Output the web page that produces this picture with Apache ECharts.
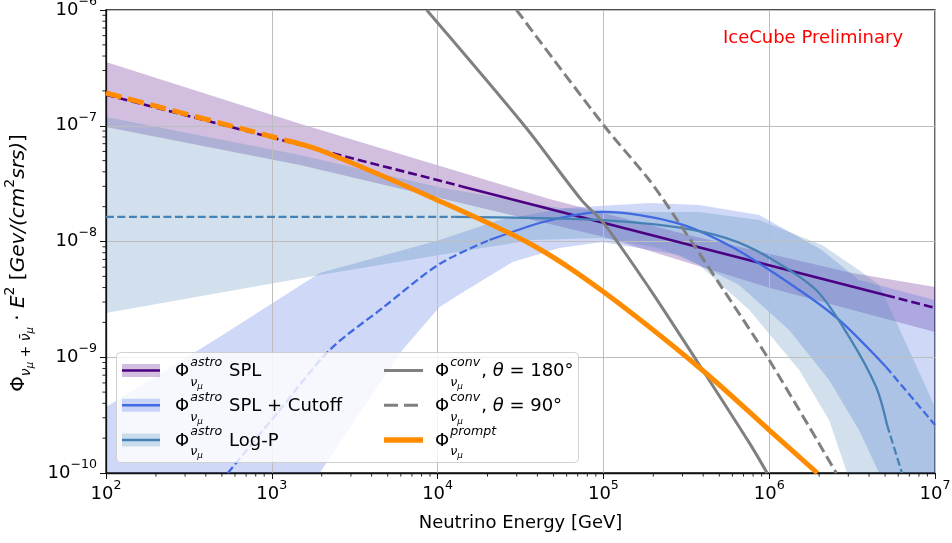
<!DOCTYPE html>
<html><head><meta charset="utf-8">
<script src="https://cdn.jsdelivr.net/npm/echarts@6/dist/echarts.min.js"></script>
<style>html,body{margin:0;padding:0;background:#fff}#c{width:952px;height:543px}</style>
</head><body><div id="c"></div>
<script>
// ================= DATA =================
const xTicks = [1e2, 1e3, 1e4, 1e5, 1e6, 1e7];
const yTicks = [1e-10, 1e-9, 1e-8, 1e-7, 1e-6];

// Astro SPL (straight power law) + band
const splE = [1e2, 1.4e4, 5.07e6, 1e7];
const splF = [1.85e-7, 2.99e-8, 3.43e-9, 2.67e-9];
const splSolid = [1.4e4, 5.07e6];
const splUpE = [1e2, 1479, 47300, 316000, 3.16e6, 1e7];
const splUpF = [3.56e-7, 1.04e-7, 2.33e-8, 1.15e-8, 5.35e-9, 4.05e-9];
const splLoE = [1e2, 1479, 1e5, 1e6, 1e7];
const splLoF = [9.75e-8, 4.58e-8, 1.10e-8, 3.98e-9, 1.65e-9];

// Astro SPL + Cutoff + band
const cutE = [543, 1117, 2234, 4667, 10280, 20560, 41100, 62400, 98600, 275400, 598000, 1.517e6, 2.642e6, 5.07e6, 1e7];
const cutF = [1e-10, 3.50e-10, 1.156e-9, 2.67e-9, 6.40e-9, 1.03e-8, 1.445e-8, 1.66e-8, 1.80e-8, 1.45e-8, 8.95e-9, 3.81e-9, 2.10e-9, 8.24e-10, 2.60e-10];
const cutSolid = [20560, 5.07e6];
const cutUpE = [100, 486, 1945, 10280, 23600, 59800, 189200, 378400, 871000, 2.08e6, 3.48e6, 1e7];
const cutUpF = [3.72e-10, 1.50e-9, 5.35e-9, 1.03e-8, 1.53e-8, 1.95e-8, 2.15e-8, 2.07e-8, 1.69e-8, 8.45e-9, 4.65e-9, 3.13e-9];
const cutLoE = [100, 1945, 3483, 6152, 10280, 14960, 28310, 54300, 98600, 287100, 659200, 1.318e6, 2.296e6, 3.48e6, 4.60e6, 1e7];
const cutLoF = [1e-10, 1e-10, 3.50e-10, 1.16e-9, 2.72e-9, 3.81e-9, 6.65e-9, 8.79e-9, 9.91e-9, 7.64e-9, 4.21e-9, 1.72e-9, 6.35e-10, 2.35e-10, 1e-10, 1e-10];

// Astro Log-Parabola + band
const logpE = [100, 12650, 35800, 98600, 275400, 550800, 959400, 1.919e6, 3.034e6, 4.416e6, 5.14e6, 6.32e6];
const logpF = [1.63e-8, 1.63e-8, 1.60e-8, 1.53e-8, 1.33e-8, 1.07e-8, 7.50e-9, 3.81e-9, 1.50e-9, 5.53e-10, 2.60e-10, 1e-10];
const logpSolid = [12650, 5.14e6];
const logpUpE = [100, 1476, 10720, 54300, 164800, 378400, 871000, 2.08e6, 3.48e6, 4.60e6, 6.97e6, 1e7];
const logpUpF = [1.19e-7, 5.58e-8, 2.90e-8, 1.95e-8, 1.80e-8, 1.80e-8, 1.53e-8, 9.33e-9, 5.68e-9, 4.21e-9, 1.16e-9, 3.72e-10];
const logpLoE = [100, 1945, 10280, 37300, 98600, 217300, 378400, 758600, 1.517e6, 2.296e6, 2.951e6, 1e7];
const logpLoF = [2.41e-9, 5.14e-9, 7.64e-9, 1.03e-8, 1.07e-8, 8.79e-9, 6.27e-9, 2.56e-9, 7.76e-10, 2.87e-10, 1e-10, 1e-10];

// Conventional atmospheric
const conv180E = [8590, 33400, 73600, 1e5, 1.89e5, 3.63e5, 7.59e5, 9.72e5];
const conv180F = [1e-6, 1.0e-7, 2.29e-8, 1.45e-8, 3.96e-9, 9.46e-10, 1.82e-10, 1e-10];
const conv90E = [29900, 1.01e5, 1.89e5, 2.61e5, 5.21e5, 1.0e6, 2.54e6];
const conv90F = [1e-6, 1.0e-7, 3.40e-8, 1.76e-8, 3.96e-9, 9.46e-10, 1e-10];

// Prompt atmospheric
const promptE = [100, 1197, 1945, 9330, 37300, 98600, 3.94e5, 1.0e6, 1.95e6];
const promptF = [1.92e-7, 7.53e-8, 6.17e-8, 2.38e-8, 9.33e-9, 3.73e-9, 7.76e-10, 2.35e-10, 1e-10];
const promptSolidFrom = 1197;

// ================= CHART =================
const FONT = 'DejaVu Sans';
const C_SPL = '#4B0082', C_CUT = '#4169E1', C_LOGP = '#4682B4', C_GRAY = '#808080', C_OR = '#FF8C00';
const B_SPL = 'rgba(75,0,130,0.25)', B_CUT = 'rgba(65,105,225,0.25)', B_LOGP = 'rgba(70,130,180,0.25)';

function seg(E, F, lo, hi) {
  const r = [];
  for (let i = 0; i < E.length; i++) if (E[i] >= lo && E[i] <= hi) r.push([E[i], F[i]]);
  return r;
}
function zip(E, F) { return E.map((e, i) => [e, F[i]]); }
function lineS(name, data, color, width, type, z, smooth) {
  return {
    type: 'line', name: name, data: data, z: z || 3, symbol: 'none', showSymbol: false,
    smooth: smooth, clip: true, silent: true, animation: false,
    lineStyle: { color: color, width: width, type: type, cap: 'butt', join: 'round' }
  };
}
function bandS(name, upE, upF, loE, loF, fill) {
  return {
    type: 'custom', name: name, z: 1, silent: true, clip: true, animation: false,
    data: [[upE[0], upF[0]]],
    renderItem: function (params, api) {
      const p = [];
      for (let i = 0; i < upE.length; i++) p.push(api.coord([upE[i], upF[i]]));
      for (let i = loE.length - 1; i >= 0; i--) p.push(api.coord([loE[i], loF[i]]));
      return { type: 'polygon', shape: { points: p }, style: { fill: fill, stroke: null } };
    }
  };
}
function expOf(v) { return Math.round(Math.log10(v)); }
const tickRich = {
  b: { fontSize: 18, fontFamily: FONT, color: '#000', lineHeight: 20, verticalAlign: 'middle' },
  s: { fontSize: 12.6, fontFamily: FONT, color: '#000', lineHeight: 13, padding: [0, 0, 17, 0], verticalAlign: 'middle' }
};
const INF = 1e99;
const DASH_B = [8, 3.5];

const chart = echarts.init(document.getElementById('c'), null, { renderer: 'canvas' });
const option = {
  animation: false,
  backgroundColor: '#fff',
  grid: { left: 106, top: 10, width: 829, height: 463, containLabel: false, outerBoundsMode: 'none',
          show: true, borderColor: '#111', borderWidth: 1.3, backgroundColor: 'transparent' },
  xAxis: {
    type: 'log', logBase: 10, min: xTicks[0], max: xTicks[xTicks.length - 1], z: 2,
    axisLine: { show: true, onZero: false, lineStyle: { color: '#111', width: 1.3 } },
    axisTick: { show: true, length: 6, lineStyle: { color: '#111', width: 1 } },
    minorTick: { show: false },
    splitLine: { show: true, lineStyle: { color: '#bdbdbd', width: 1 } },
    axisLabel: { show: true, margin: 11, showMinLabel: true, showMaxLabel: true, hideOverlap: false,
      formatter: v => '{b|10}{s|' + String(expOf(v)).replace('-', '\u2212') + '}', rich: tickRich },
    name: 'Neutrino Energy [GeV]', nameLocation: 'middle', nameGap: 41,
    nameTextStyle: { fontSize: 18, fontFamily: FONT, color: '#000' }
  },
  yAxis: {
    type: 'log', logBase: 10, min: yTicks[0], max: yTicks[yTicks.length - 1], z: 2,
    axisLine: { show: true, onZero: false, lineStyle: { color: '#111', width: 1.3 } },
    axisTick: { show: true, length: 6, lineStyle: { color: '#111', width: 1 } },
    minorTick: { show: false },
    splitLine: { show: true, lineStyle: { color: '#bdbdbd', width: 1 } },
    axisLabel: { show: true, margin: 9, showMinLabel: true, showMaxLabel: true, hideOverlap: false,
      formatter: v => '{b|10}{s|' + String(expOf(v)).replace('-', '\u2212') + '}', rich: tickRich }
  },
  series: [
    bandS('SPL band', splUpE, splUpF, splLoE, splLoF, B_SPL),
    bandS('Cutoff band', cutUpE, cutUpF, cutLoE, cutLoF, B_CUT),
    bandS('LogP band', logpUpE, logpUpF, logpLoE, logpLoF, B_LOGP),

    lineS('SPL', seg(splE, splF, 0, splSolid[0]), C_SPL, 2.6, [9, 4], 3, false),
    lineS('SPL', seg(splE, splF, splSolid[0], splSolid[1]), C_SPL, 2.6, 'solid', 3, false),
    lineS('SPL', seg(splE, splF, splSolid[1], INF), C_SPL, 2.6, [9, 4], 3, false),

    lineS('Cutoff', seg(cutE, cutF, 0, cutSolid[0]), C_CUT, 2.3, DASH_B, 3, 0.3),
    lineS('Cutoff', seg(cutE, cutF, cutSolid[0], cutSolid[1]), C_CUT, 2.3, 'solid', 3, 0.3),
    lineS('Cutoff', seg(cutE, cutF, cutSolid[1], INF), C_CUT, 2.3, DASH_B, 3, 0.3),

    lineS('LogP', seg(logpE, logpF, 0, logpSolid[0]), C_LOGP, 2.3, DASH_B, 3, 0.3),
    lineS('LogP', seg(logpE, logpF, logpSolid[0], logpSolid[1]), C_LOGP, 2.3, 'solid', 3, 0.3),
    lineS('LogP', seg(logpE, logpF, logpSolid[1], INF), C_LOGP, 2.3, DASH_B, 3, 0.3),

    lineS('conv180', zip(conv180E, conv180F), C_GRAY, 3, 'solid', 3, 0.3),
    lineS('conv90', zip(conv90E, conv90F), C_GRAY, 3, [11, 5], 3, 0.3),

    lineS('prompt', seg(promptE, promptF, 0, promptSolidFrom), C_OR, 5, [16, 7], 4, 0.3),
    lineS('prompt', seg(promptE, promptF, promptSolidFrom, INF), C_OR, 5, 'solid', 4, 0.3)
  ]
};
chart.setOption(option);

// ================= minor ticks, legend, annotations =================
const cvs = document.createElement('canvas').getContext('2d');
function tw(t, size, italic) { cvs.font = (italic ? 'italic ' : '') + size + 'px "' + FONT + '"'; return cvs.measureText(t).width; }

const G = [];
for (let d = 0; d < xTicks.length - 1; d++) for (let m = 2; m <= 9; m++) {
  const p = chart.convertToPixel({ gridIndex: 0 }, [m * xTicks[d], yTicks[0]]);
  G.push({ type: 'line', z: 50, shape: { x1: p[0], y1: p[1], x2: p[0], y2: p[1] + 3.6 }, style: { stroke: '#111', lineWidth: 0.9 } });
}
for (let d = 0; d < yTicks.length - 1; d++) for (let m = 2; m <= 9; m++) {
  const p = chart.convertToPixel({ gridIndex: 0 }, [xTicks[0], m * yTicks[d]]);
  G.push({ type: 'line', z: 50, shape: { x1: p[0] - 3.6, y1: p[1], x2: p[0], y2: p[1] }, style: { stroke: '#111', lineWidth: 0.9 } });
}

G.push({ type: 'text', z: 60, x: 813, y: 38, style: { text: 'IceCube Preliminary', fill: '#ff0000', fontSize: 18, fontFamily: FONT, align: 'center', verticalAlign: 'middle' } });

// y-axis title
G.push({ type: 'text', z: 60, x: 19, y: 263, rotation: Math.PI / 2, style: {
  text: '{n|\u03a6}{sub|\u03bd}{ss|\u03bc}{sub| + \u03bd\u0304}{ss|\u03bc}{n| \u00b7 }{i|E}{sup|2}{n| [}{i|Gev/(cm}{supi|2}{i|srs)}{n|]}',
  align: 'center', verticalAlign: 'middle', fill: '#000',
  rich: {
    n: { fontSize: 20, fontFamily: FONT, fill: '#000' },
    i: { fontSize: 20, fontFamily: FONT, fontStyle: 'italic', fill: '#000' },
    sub: { fontSize: 14, fontFamily: FONT, fontStyle: 'italic', fill: '#000', padding: [14, 0, 0, 0] },
    ss: { fontSize: 10, fontFamily: FONT, fontStyle: 'italic', fill: '#000', padding: [23, 0, 0, 0] },
    sup: { fontSize: 14, fontFamily: FONT, fill: '#000', padding: [0, 0, 18, 0] },
    supi: { fontSize: 14, fontFamily: FONT, fill: '#000', padding: [0, 0, 18, 0] }
  }
} });

// legend
G.push({ type: 'rect', z: 70, shape: { x: 116.5, y: 352.5, width: 462, height: 110, r: 4 }, style: { fill: 'rgba(255,255,255,0.8)', stroke: 'rgba(204,204,204,0.9)', lineWidth: 1 } });
const rows = [370.5, 405.3, 440];
const legendEntries = [
  { col: 0, row: 0, band: B_SPL, color: C_SPL, w: 2.6, dash: null, sup: 'astro', rest: [['n', ' SPL']] },
  { col: 0, row: 1, band: B_CUT, color: C_CUT, w: 2.6, dash: null, sup: 'astro', rest: [['n', ' SPL + Cutoff']] },
  { col: 0, row: 2, band: B_LOGP, color: C_LOGP, w: 2.6, dash: null, sup: 'astro', rest: [['n', ' Log-P']] },
  { col: 1, row: 0, band: null, color: C_GRAY, w: 3, dash: null, sup: 'conv', rest: [['n', ', '], ['i', '\u03b8'], ['n', ' = 180\u00b0']] },
  { col: 1, row: 1, band: null, color: C_GRAY, w: 3, dash: [14, 6], sup: 'conv', rest: [['n', ', '], ['i', '\u03b8'], ['n', ' = 90\u00b0']] },
  { col: 1, row: 2, band: null, color: C_OR, w: 5.5, dash: null, sup: 'prompt', rest: [] }
];
const colHandle = [[122, 160], [384, 423]];
const colText = [175, 435];
legendEntries.forEach(e => {
  const yc = rows[e.row];
  const h = colHandle[e.col];
  if (e.band) G.push({ type: 'rect', z: 71, shape: { x: h[0], y: yc - 6.5, width: h[1] - h[0], height: 13 }, style: { fill: e.band } });
  G.push({ type: 'line', z: 72, shape: { x1: h[0], y1: yc, x2: h[1], y2: yc }, style: { stroke: e.color, lineWidth: e.w, lineDash: e.dash || null, lineCap: 'butt' } });
  let x = colText[e.col];
  const yt = yc + 1;
  G.push({ type: 'text', z: 72, x: x, y: yt, style: { text: '\u03a6', fontSize: 18, fontFamily: FONT, fill: '#000', align: 'left', verticalAlign: 'middle' } });
  x += tw('\u03a6', 18) + 1;
  G.push({ type: 'text', z: 72, x: x, y: yt - 9, style: { text: e.sup, fontSize: 12.6, fontFamily: FONT, fontStyle: 'italic', fill: '#000', align: 'left', verticalAlign: 'middle' } });
  G.push({ type: 'text', z: 72, x: x, y: yt + 11, style: { text: '\u03bd', fontSize: 12.6, fontFamily: FONT, fontStyle: 'italic', fill: '#000', align: 'left', verticalAlign: 'middle' } });
  const wn = tw('\u03bd', 12.6, true);
  G.push({ type: 'text', z: 72, x: x + wn, y: yt + 15, style: { text: '\u03bc', fontSize: 8.8, fontFamily: FONT, fontStyle: 'italic', fill: '#000', align: 'left', verticalAlign: 'middle' } });
  x += Math.max(tw(e.sup, 12.6, true), wn + tw('\u03bc', 8.8, true)) + 1;
  e.rest.forEach(r => {
    const it = r[0] === 'i';
    G.push({ type: 'text', z: 72, x: x, y: yt, style: { text: r[1], fontSize: 18, fontFamily: FONT, fontStyle: it ? 'italic' : 'normal', fill: '#000', align: 'left', verticalAlign: 'middle' } });
    x += tw(r[1], 18, it);
  });
});
chart.setOption({ graphic: G });
</script></body></html>
